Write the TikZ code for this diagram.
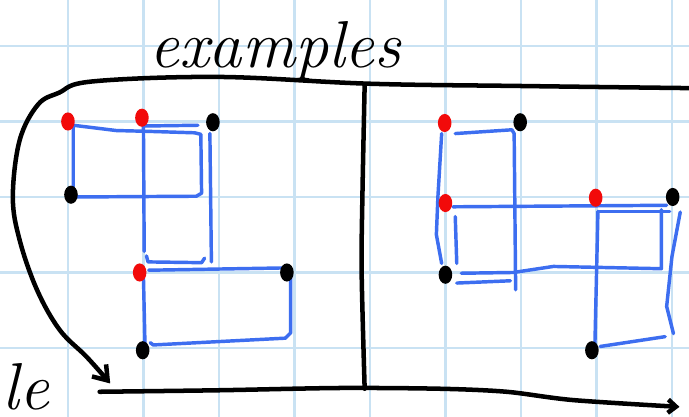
\documentclass[tikz,border=0pt]{standalone}
\usepackage{tikz}
\usetikzlibrary{arrows.meta, shapes.geometric}
\usepackage{xcolor}
\definecolor{gridblue}{HTML}{C9E2F3}
\definecolor{penblue}{HTML}{3D6EF0}
\definecolor{penred}{HTML}{F20A0A}

\tikzset{
  pen/.style={line width=1.7pt, line cap=round, line join=round},
  box/.style={penblue, line width=1.3pt, line cap=round, line join=round},
  dotmark/.style={ellipse, inner sep=0pt, minimum width=0.18cm, minimum height=0.24cm},
  reddot/.style={dotmark, fill=penred},
  blackdot/.style={dotmark, fill=black},
  hand/.style={font=\fontsize{25}{25}\selectfont\itshape}
}

\begin{document}
\begin{tikzpicture}
  \useasboundingbox (-0.9,-0.914) rectangle (8.226,4.609);
  \fill[white] (-0.9,-0.914) rectangle (8.226,4.609);

  % Grid
  \draw[gridblue, line width=0.8pt] (-0.9,-0.914) grid (8.226,4.609);

  % Labels
  \node[hand, anchor=base west, inner sep=0pt] (title) at (1.07,3.72) {examples};
  \node[hand, anchor=base east, inner sep=0pt] (tail) at (-0.24,-0.82) {le};

  % Frame
  \draw[pen, -{Straight Barb[length=5pt, width=7pt]}] plot[smooth, tension=0.6] coordinates {
    (8.4,3.44) (6.0,3.47) (4.0,3.50) (2.0,3.59) (0.32,3.53) (-0.12,3.38)
    (-0.40,3.22) (-0.64,2.75) (-0.73,2.0) (-0.64,1.43) (-0.41,0.77)
    (-0.11,0.24) (0.25,-0.12) (0.56,-0.47)};
  \draw[pen] plot[smooth] coordinates {
    (3.93,3.49) (3.90,2.0) (3.89,1.0) (3.93,-0.54)};
  \draw[pen, -{Straight Barb[length=3pt, width=5pt]}] plot[smooth] coordinates {
    (0.42,-0.58) (2.0,-0.56) (3.6,-0.53) (4.93,-0.54) (5.81,-0.58)
    (6.69,-0.69) (8.1,-0.78)};

  % Left example
  \draw[box] (0.07,2.13) -- (0.07,2.95) -- (0.64,2.88) -- (1.04,2.87)
    -- (1.68,2.85) -- (1.76,2.83) -- (1.77,2.05) -- (1.7,2.01) -- (0.1,2.0);
  \draw[box] (1.01,1.28) -- (1.0,2.94) -- (1.72,2.95);
  \draw[box] (1.04,1.22) -- (1.06,1.14) -- (1.77,1.13) -- (1.81,1.19);
  \draw[box] (1.88,2.84) -- (1.9,1.14);
  \draw[box] (1.07,1.03) -- (2.85,1.06);
  \draw[box] (2.95,1.0) -- (2.95,0.2) -- (2.88,0.13) -- (1.13,0.04) -- (1.09,0.07);
  \draw[box] (1.0,0.94) -- (1.02,0.06);

  \node[reddot]   (la) at (0,3.0)    {};
  \node[reddot]   (lb) at (0.98,3.05) {};
  \node[reddot]   (lc) at (0.95,1.0)  {};
  \node[blackdot] (ld) at (1.92,2.99) {};
  \node[blackdot] (le) at (0.04,2.03) {};
  \node[blackdot] (lf) at (2.9,1.0)   {};
  \node[blackdot] (lg) at (0.99,-0.03) {};

  % Right example
  \draw[box] (4.95,2.84) -- (4.9,2.0) -- (4.88,1.5) -- (4.95,1.12);
  \draw[box] (5.13,2.84) -- (5.88,2.89) -- (5.91,2.84) -- (5.93,0.77);
  \draw[box] (5.15,0.86) -- (5.86,0.89);
  \draw[box] (5.1,1.87) -- (7.93,1.89);
  \draw[box] (5.13,1.74) -- (5.15,1.12);
  \draw[box] (5.21,0.99) -- (5.9,1.0) -- (6.43,1.08) -- (7.86,1.05) -- (7.86,1.83);
  \draw[box] (7.02,1.81) -- (7.97,1.81);
  \draw[box] (7.02,1.81) -- (6.98,0.06);
  \draw[box] (8.11,1.8) -- (8.0,1.21) -- (7.93,0.55) -- (8.02,0.19);
  \draw[box] (7.05,0.02) -- (7.91,0.15);

  \node[reddot]   (ra) at (4.99,2.98) {};
  \node[reddot]   (rb) at (5.0,1.92)  {};
  \node[reddot]   (rc) at (6.99,1.99) {};
  \node[blackdot] (rd) at (5.99,2.99) {};
  \node[blackdot] (re) at (8.01,2.0)  {};
  \node[blackdot] (rf) at (5.0,0.97)  {};
  \node[blackdot] (rg) at (6.94,-0.03) {};
\end{tikzpicture}
\end{document}
